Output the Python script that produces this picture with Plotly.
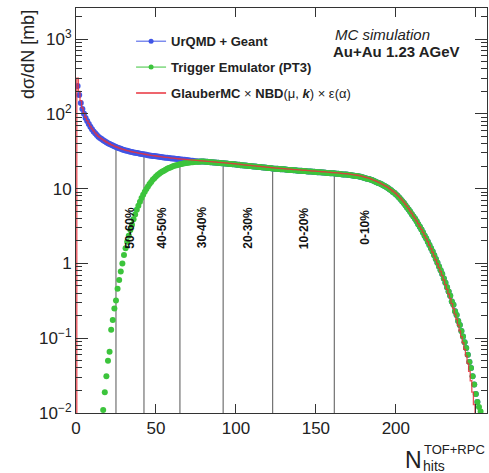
import plotly.graph_objects as go
import math

# ---------------- data ----------------
# UrQMD + Geant, bins x = 1 .. 251
urqmd_x0 = 1
urqmd = [
    235, 178, 140, 116, 100, 88, 80, 73, 67, 62,
    58, 55, 52, 49.5, 47.5, 46, 44.5, 43, 41.7, 40.5,
    39.5, 38.5, 37.6, 36.8, 36, 35.3, 34.6, 34, 33.4, 32.9,
    32.4, 32, 31.6, 31.2, 30.8, 30.5, 30.2, 29.9, 29.6, 29.3,
    29.0, 28.8, 28.5, 28.3, 28.0, 27.8, 27.6, 27.4, 27.2, 27.0,
    26.8, 26.6, 26.4, 26.3, 26.1, 25.9, 25.8, 25.6, 25.5, 25.3,
    25.2, 25.0, 24.9, 24.8, 24.6, 24.5, 24.4, 24.3, 24.2, 24.0,
    23.8, 23.6, 23.5, 23.3, 23.2, 23.1, 23.0, 23.0, 23.0, 23.0,
    22.9, 22.8, 22.7, 22.6, 22.5, 22.4, 22.3, 22.2, 22.1, 22.0,
    21.9, 21.8, 21.7, 21.6, 21.5, 21.4, 21.3, 21.2, 21.1, 21.0,
    20.9, 20.8, 20.6, 20.5, 20.4, 20.3, 20.2, 20.1, 20.0, 19.9,
    19.8, 19.7, 19.6, 19.5, 19.4, 19.3, 19.2, 19.1, 19.0, 18.9,
    18.8, 18.7, 18.6, 18.5, 18.4, 18.4, 18.3, 18.2, 18.1, 18.1,
    18.0, 17.9, 17.8, 17.8, 17.7, 17.6, 17.6, 17.5, 17.4, 17.4,
    17.3, 17.2, 17.2, 17.1, 17.0, 17.0, 16.9, 16.8, 16.8, 16.7,
    16.6, 16.6, 16.5, 16.4, 16.4, 16.3, 16.2, 16.2, 16.1, 16.0,
    16.0, 15.9, 15.8, 15.8, 15.7, 15.6, 15.5, 15.5, 15.4, 15.3,
    15.2, 15.1, 15.0, 14.9, 14.8, 14.7, 14.5, 14.4, 14.2, 14.0,
    13.8, 13.6, 13.4, 13.2, 13.0, 12.7, 12.5, 12.2, 11.9, 11.7,
    11.4, 11.1, 10.8, 10.5, 10.2, 9.8, 9.5, 9.1, 8.8, 8.4,
    8.0, 7.6, 7.2, 6.8, 6.4, 6.0, 5.6, 5.25, 4.9, 4.55,
    4.25, 3.95, 3.65, 3.35, 3.1, 2.85, 2.6, 2.35, 2.15, 1.95,
    1.76, 1.6, 1.44, 1.29, 1.15, 1.02, 0.91, 0.81, 0.72, 0.63,
    0.55, 0.48, 0.42, 0.37, 0.31, 0.28, 0.23, 0.205, 0.17, 0.15,
    0.125, 0.105, 0.088, 0.074, 0.06, 0.048, 0.04, 0.031, 0.024, 0.018, 0.014,
]

# Trigger Emulator (PT3), bins x = 17 .. 253
trigger_x0 = 17
trigger = [
    0.011, 0.019, 0.031, 0.05,
    0.066, 0.13, 0.175, 0.25, 0.32, 0.46, 0.6, 0.78, 1.0, 1.3,
    1.6, 1.95, 2.35, 2.8, 3.3, 3.9, 4.5, 5.2, 5.9, 6.7,
    7.5, 8.3, 9.1, 9.9, 10.7, 11.5, 12.3, 13.1, 13.8, 14.5,
    15.2, 15.8, 16.4, 16.9, 17.4, 17.9, 18.4, 18.8, 19.2, 19.6,
    20.0, 20.3, 20.6, 20.9, 21.2, 21.4, 21.6, 21.8, 22.0, 22.2,
    22.4, 22.5, 22.6, 22.7, 22.8, 22.9, 22.9, 23.0, 23.0, 23.0,
    22.9, 22.8, 22.7, 22.6, 22.5, 22.4, 22.3, 22.2, 22.1, 22.0,
    21.9, 21.8, 21.7, 21.6, 21.5, 21.4, 21.3, 21.2, 21.1, 21.0,
    20.9, 20.8, 20.6, 20.5, 20.4, 20.3, 20.2, 20.1, 20.0, 19.9,
    19.8, 19.7, 19.6, 19.5, 19.4, 19.3, 19.2, 19.1, 19.0, 18.9,
    18.8, 18.7, 18.6, 18.5, 18.4, 18.4, 18.3, 18.2, 18.1, 18.1,
    18.0, 17.9, 17.8, 17.8, 17.7, 17.6, 17.6, 17.5, 17.4, 17.4,
    17.3, 17.2, 17.2, 17.1, 17.0, 17.0, 16.9, 16.8, 16.8, 16.7,
    16.6, 16.6, 16.5, 16.4, 16.4, 16.3, 16.2, 16.2, 16.1, 16.0,
    16.0, 15.9, 15.8, 15.8, 15.7, 15.6, 15.5, 15.5, 15.4, 15.3,
    15.2, 15.1, 15.0, 14.9, 14.8, 14.7, 14.5, 14.4, 14.2, 14.0,
    13.8, 13.6, 13.4, 13.2, 13.0, 12.7, 12.5, 12.2, 11.9, 11.7,
    11.4, 11.1, 10.8, 10.5, 10.2, 9.8, 9.5, 9.1, 8.8, 8.4,
    8.0, 7.6, 7.2, 6.8, 6.4, 6.0, 5.6, 5.25, 4.9, 4.55,
    4.25, 3.95, 3.65, 3.35, 3.1, 2.85, 2.6, 2.35, 2.15, 1.95,
    1.76, 1.6, 1.44, 1.29, 1.15, 1.02, 0.91, 0.81, 0.72, 0.63,
    0.55, 0.48, 0.42, 0.37, 0.31, 0.28, 0.23, 0.205, 0.17, 0.15,
    0.125, 0.105, 0.088, 0.074, 0.06, 0.048, 0.04, 0.031, 0.024, 0.018,
    0.014, 0.012, 0.0105,
]

# GlauberMC x NBD x eps fit, bins x = 0 .. 250
glauber_x0 = 0
glauber = [
    0.001,
    300, 200, 150, 120, 102, 90, 81, 74, 68, 63,
    59, 55.5, 52.5, 50, 48, 46.3, 44.8, 43.3, 42, 40.8,
    39.8, 38.8, 37.9, 37.1, 36.3, 35.6, 34.9, 34.3, 33.7, 33.2,
    32.7, 32.3, 31.9, 31.5, 31.1, 30.8, 30.5, 30.2, 29.9, 29.6,
    29.3, 29.1, 28.8, 28.6, 28.3, 28.1, 27.9, 27.7, 27.5, 27.3,
    27.1, 26.9, 26.7, 26.6, 26.4, 26.2, 26.1, 25.9, 25.8, 25.6,
    25.5, 25.3, 25.2, 25.1, 24.9, 24.8, 24.7, 24.6, 24.5, 24.4,
    24.3, 24.2, 24.1, 24.0, 23.9, 23.8, 23.7, 23.6, 23.5, 23.4,
    23.3, 23.2, 23.1, 23.0, 22.9, 22.8, 22.7, 22.6, 22.5, 22.4,
    22.3, 22.2, 22.1, 22.0, 21.9, 21.8, 21.7, 21.6, 21.5, 21.4,
    21.3, 21.2, 21.0, 20.9, 20.8, 20.7, 20.6, 20.5, 20.4, 20.3,
    20.2, 20.1, 20.0, 19.9, 19.8, 19.7, 19.6, 19.5, 19.4, 19.3,
    19.2, 19.1, 19.0, 18.9, 18.8, 18.8, 18.7, 18.6, 18.5, 18.5,
    18.4, 18.3, 18.2, 18.2, 18.1, 18.0, 18.0, 17.9, 17.8, 17.8,
    17.7, 17.6, 17.6, 17.5, 17.4, 17.4, 17.3, 17.2, 17.2, 17.1,
    17.0, 17.0, 16.9, 16.8, 16.8, 16.7, 16.6, 16.6, 16.5, 16.4,
    16.4, 16.3, 16.2, 16.2, 16.1, 16.0, 15.9, 15.9, 15.8, 15.7,
    15.6, 15.5, 15.4, 15.3, 15.2, 15.1, 14.9, 14.8, 14.6, 14.4,
    14.2, 14.0, 13.8, 13.6, 13.3, 13.0, 12.8, 12.5, 12.2, 11.9,
    11.6, 11.3, 11.0, 10.7, 10.4, 10.0, 9.7, 9.3, 9.0, 8.6,
    8.2, 7.8, 7.4, 7.0, 6.6, 6.2, 5.8, 5.4, 5.0, 4.65,
    4.3, 4.0, 3.7, 3.4, 3.1, 2.85, 2.6, 2.35, 2.15, 1.95,
    1.75, 1.57, 1.41, 1.26, 1.12, 0.99, 0.88, 0.78, 0.69, 0.6,
    0.52, 0.45, 0.39, 0.34, 0.29, 0.25, 0.21, 0.18, 0.15, 0.125,
    0.105, 0.087, 0.071, 0.058, 0.046, 0.036, 0.027, 0.019, 0.013, 0.0005,
]

# centrality class boundaries (in N_hits) and labels
centrality_edges = [25, 42.5, 65, 92, 123, 161.5, 200]
centrality_labels = ["50-60%", "40-50%", "30-40%", "20-30%", "10-20%", "0-10%"]
centrality_label_y = 3.0

y_tickvals = [0.01, 0.1, 1, 10, 100, 1000]
y_ticktext = ["10<sup>−2</sup>", "10<sup>−1</sup>", "1", "10", "10<sup>2</sup>", "10<sup>3</sup>"]
x_tickvals = [0, 50, 100, 150, 200, 250]

# ---------------- styles ----------------
FONT = "Liberation Sans, Arial, Helvetica, sans-serif"
BLUE = "#3f55e6"
GREEN = "#3cc43c"
RED = "#e8323c"
AX = "#333333"

def xs(x0, vals):
    return [x0 + i for i in range(len(vals))]

fig = go.Figure()

# centrality cut lines: from the bottom of the frame up to the fit curve
for c in centrality_edges[:-1]:
    top = glauber[int(round(c)) - glauber_x0]
    fig.add_trace(go.Scatter(x=[c, c], y=[1e-3, top], mode="lines",
                             line=dict(color="#555555", width=1),
                             showlegend=False, hoverinfo="skip"))

fig.add_trace(go.Scatter(x=xs(urqmd_x0, urqmd), y=urqmd, mode="markers",
                         marker=dict(color=BLUE, size=6), showlegend=False))
fig.add_trace(go.Scatter(x=xs(trigger_x0, trigger), y=trigger, mode="markers",
                         marker=dict(color=GREEN, size=6), showlegend=False))
fig.add_trace(go.Scatter(x=xs(glauber_x0, glauber), y=glauber, mode="lines",
                         line=dict(color=RED, width=1.3, shape="hvh"),
                         opacity=0.85, showlegend=False))

# legend entries
fig.add_trace(go.Scatter(x=[None], y=[None], mode="lines+markers",
                         line=dict(color=BLUE, width=1), marker=dict(color=BLUE, size=5),
                         name="<b>UrQMD + Geant</b>", legendgroup="a"))
fig.add_trace(go.Scatter(x=[None], y=[None], mode="lines+markers",
                         line=dict(color=GREEN, width=1), marker=dict(color=GREEN, size=5),
                         name="<b>Trigger Emulator (PT3)</b>", legendgroup="b"))
fig.add_trace(go.Scatter(x=[None], y=[None], mode="lines",
                         line=dict(color=RED, width=1.5),
                         name="<b>GlauberMC</b> × <b>NBD</b>(μ, <b><i>k</i></b>) × ε(α)",
                         legendgroup="c"))

annotations = []
for i, lab in enumerate(centrality_labels):
    xm = 0.5 * (centrality_edges[i] + centrality_edges[i + 1])
    annotations.append(dict(x=xm, y=math.log10(centrality_label_y), xref="x", yref="y",
                            text=f"<b>{lab}</b>", textangle=-90, showarrow=False,
                            font=dict(family=FONT, size=12, color="#111111")))

annotations += [
    dict(x=0.625, y=0.935, xref="paper", yref="paper", xanchor="left", yanchor="middle",
         text="<i>MC simulation</i>", showarrow=False,
         font=dict(family=FONT, size=15, color="#222222")),
    dict(x=0.620, y=0.893, xref="paper", yref="paper", xanchor="left", yanchor="middle",
         text="<b>Au+Au 1.23 AGeV</b>", showarrow=False,
         font=dict(family=FONT, size=15, color="#222222")),
    # y axis title
    dict(x=-0.118, y=1.0, xref="paper", yref="paper", xanchor="center", yanchor="top",
         text="dσ/dN [mb]", textangle=-90, showarrow=False,
         font=dict(family=FONT, size=18, color="#222222")),
    # x axis title  N_hits^{TOF+RPC}
    dict(x=0.820, y=-0.116, xref="paper", yref="paper", xanchor="center", yanchor="middle",
         text="N", showarrow=False, font=dict(family=FONT, size=23, color="#222222")),
    dict(x=0.842, y=-0.089, xref="paper", yref="paper", xanchor="left", yanchor="middle",
         text="TOF+RPC", showarrow=False, font=dict(family=FONT, size=13, color="#222222")),
    dict(x=0.839, y=-0.131, xref="paper", yref="paper", xanchor="left", yanchor="middle",
         text="hits", showarrow=False, font=dict(family=FONT, size=14, color="#222222")),
]

minor_y = [m * 10.0 ** e for e in range(-2, 4) for m in range(2, 10)]

fig.update_layout(
    width=489, height=473,
    margin=dict(l=76, r=2, t=8, b=60, autoexpand=False),
    paper_bgcolor="white", plot_bgcolor="white",
    font=dict(family=FONT, size=17, color="#222222"),
    showlegend=True,
    legend=dict(x=0.134, y=0.955, xanchor="left", yanchor="top",
                bgcolor="rgba(255,255,255,0)", borderwidth=0,
                font=dict(family=FONT, size=13, color="#222222"),
                tracegroupgap=6, traceorder="grouped"),
    annotations=annotations,
    xaxis=dict(range=[0, 257], tickmode="array", tickvals=x_tickvals,
               ticks="inside", ticklen=9, tickwidth=1, tickcolor=AX,
               showline=True, linecolor=AX, linewidth=1, mirror="ticks",
               showgrid=False, zeroline=False, automargin=False,
               tickfont=dict(family=FONT, size=17, color="#222222")),
    yaxis=dict(type="log", range=[-2, 3.415], tickmode="array",
               tickvals=y_tickvals, ticktext=y_ticktext,
               ticks="inside", ticklen=12, tickwidth=1, tickcolor=AX,
               showline=True, linecolor=AX, linewidth=1, mirror="ticks",
               showgrid=False, zeroline=False, automargin=False,
               minor=dict(tickmode="array", tickvals=minor_y, ticks="inside",
                          ticklen=6, tickwidth=1, tickcolor=AX, showgrid=False),
               tickfont=dict(family=FONT, size=17, color="#222222")),
)

fig.write_html("out.html", config={"displayModeBar": False},
               post_script="document.body.style.margin='0';document.body.style.overflow='hidden';")
